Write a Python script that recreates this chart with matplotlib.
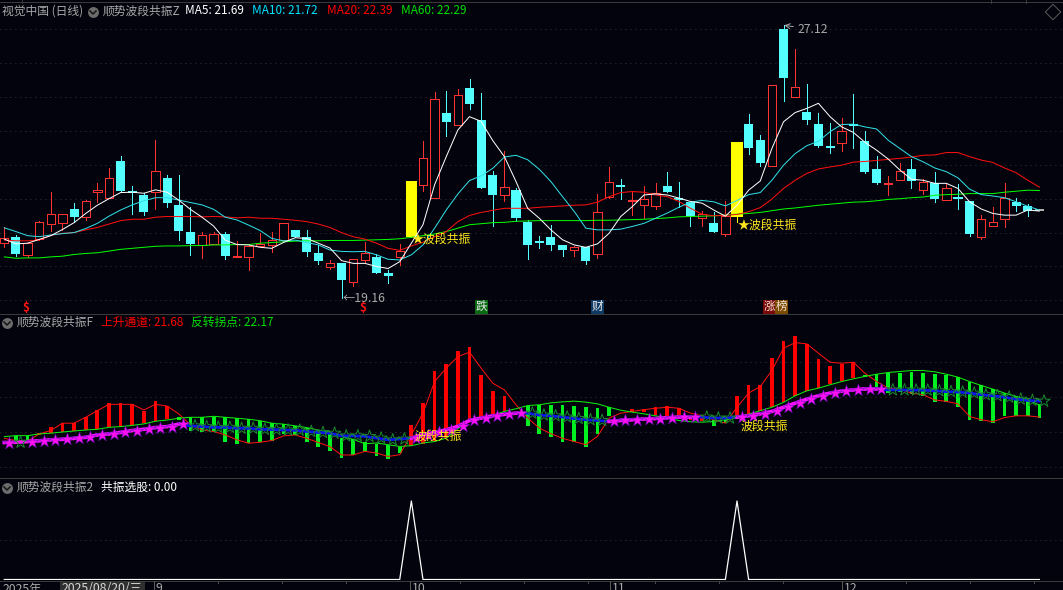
import matplotlib
matplotlib.use('Agg')
import matplotlib.pyplot as plt

plt.rcParams['font.family'] = ['Noto Sans CJK SC', 'DejaVu Sans']
plt.rcParams['patch.antialiased'] = False

bg_color = '#02030c'
red = '#ff3232'
cyan = '#54ffff'
thin = 0.6
curve = 0.72

# daily candles, body top/bottom and wick high/low
# r = up (hollow red), c = down (filled cyan), y = signal day (yellow), w = flat
candle_kind = list('rcrrrrcrrr' 'cccrcccrrc' 'rrrrrcccrc' 'rrccryrrcr' 'cccrcccccr'
                   'crrcrrrccc' 'rcryccrcrc' 'ccrcccrrcr' 'crccrrrccw')
body_top = [20.89, 20.93, 20.75, 21.36, 21.59, 21.59, 21.75, 21.97, 22.30, 22.65,
            23.15, 22.26, 22.16, 22.85, 22.66, 21.87, 21.08, 21.00, 21.01, 21.02,
            20.39, 20.66, 20.73, 20.83, 21.33, 21.14, 20.93, 20.46, 20.16, 20.17,
            20.28, 20.46, 20.35, 19.88, 20.53, 22.57, 23.24, 24.96, 24.56, 25.08,
            25.29, 24.36, 22.75, 22.39, 22.31, 21.38, 20.80, 20.94, 20.70, 20.65,
            20.63, 21.66, 22.53, 22.42, 22.02, 22.04, 22.21, 22.43, 22.08, 21.96,
            21.61, 21.34, 21.54, 23.71, 24.23, 23.76, 25.37, 27.01, 25.33, 24.58,
            24.23, 23.58, 24.02, 24.22, 23.73, 22.92, 22.52, 22.85, 22.92, 22.53,
            22.52, 22.35, 22.08, 21.98, 21.47, 21.38, 22.08, 21.95, 21.83, 21.70]
body_bottom = [20.75, 20.43, 20.41, 20.86, 21.32, 21.35, 21.52, 21.51, 22.26, 22.08,
               22.28, 22.21, 21.66, 22.24, 21.93, 21.11, 20.73, 20.71, 20.73, 20.37,
               20.35, 20.35, 20.68, 20.71, 20.84, 20.93, 20.49, 20.23, 20.06, 19.67,
               19.62, 20.26, 19.88, 19.79, 20.36, 20.94, 22.44, 22.06, 24.28, 24.22,
               24.81, 22.35, 22.16, 22.17, 21.50, 20.71, 20.76, 20.70, 20.54, 20.54,
               20.24, 20.42, 22.09, 22.38, 21.98, 21.86, 21.85, 22.25, 22.02, 21.55,
               21.48, 21.08, 21.02, 21.53, 23.54, 23.10, 23.01, 25.59, 25.03, 24.36,
               23.60, 23.54, 23.67, 24.17, 22.83, 22.52, 22.49, 22.60, 22.57, 22.31,
               22.04, 22.02, 22.04, 21.02, 20.94, 21.26, 21.47, 21.84, 21.70, 21.68]
wick_high = [21.21, 20.99, 20.79, 21.41, 22.25, 21.59, 21.93, 22.01, 22.51, 22.95,
             23.30, 22.42, 22.21, 23.77, 22.74, 22.74, 21.80, 21.09, 21.09, 21.08,
             20.81, 20.70, 21.04, 21.08, 21.33, 21.14, 21.14, 20.70, 20.26, 20.17,
             20.28, 20.79, 20.43, 19.97, 20.73, 22.57, 23.74, 25.17, 25.20, 25.26,
             25.56, 25.15, 22.85, 23.45, 22.35, 21.43, 20.96, 21.29, 20.70, 20.68,
             20.65, 22.19, 22.98, 22.63, 22.28, 22.43, 22.52, 22.84, 22.54, 21.96,
             21.70, 21.67, 21.98, 23.71, 24.52, 23.91, 25.37, 27.12, 26.43, 25.40,
             24.55, 24.27, 24.41, 25.11, 24.03, 23.30, 22.71, 23.08, 23.21, 22.64,
             22.83, 22.50, 22.48, 21.98, 21.57, 21.80, 22.50, 22.07, 21.89, 21.70]
wick_low = [20.65, 20.37, 20.36, 20.84, 21.11, 21.15, 21.38, 21.43, 21.96, 22.06,
            22.28, 21.60, 21.58, 21.75, 21.82, 20.84, 20.40, 20.32, 20.73, 20.30,
            20.35, 19.96, 20.68, 20.49, 20.82, 20.93, 20.37, 20.14, 19.99, 19.16,
            19.50, 20.18, 19.88, 19.60, 20.12, 20.94, 22.29, 22.06, 23.87, 24.22,
            24.66, 22.35, 21.24, 21.97, 21.40, 20.30, 20.62, 20.54, 20.38, 20.38,
            20.15, 20.32, 22.07, 22.05, 21.56, 21.48, 21.75, 22.25, 21.80, 21.26,
            21.24, 21.08, 20.96, 21.53, 23.36, 23.01, 23.01, 24.91, 25.03, 24.24,
            23.56, 23.39, 23.45, 23.53, 22.81, 22.49, 22.15, 22.60, 22.36, 22.19,
            21.96, 22.02, 21.76, 20.96, 20.88, 21.24, 21.22, 21.69, 21.55, 21.68]

ma5 = [20.87, 20.73, 20.75, 20.86, 20.97, 21.15, 21.35, 21.62, 21.86, 22.05,
       22.23, 22.24, 22.21, 22.31, 22.24, 22.01, 21.74, 21.51, 21.25, 20.84,
       20.71, 20.70, 20.63, 20.60, 20.77, 20.91, 20.89, 20.75, 20.61, 20.24,
       20.16, 20.16, 20.07, 20.01, 20.21, 20.75, 21.29, 22.46, 23.28, 24.06,
       24.45, 24.31, 23.75, 23.28, 22.55, 21.77, 21.48, 21.14, 20.85, 20.70,
       20.63, 20.73, 21.04, 21.53, 21.82, 22.16, 22.19, 22.16, 22.07, 21.97,
       21.92, 21.72, 21.54, 21.86, 22.30, 22.57, 23.52, 24.30, 24.57, 24.69,
       24.84, 24.45, 24.15, 23.99, 23.70, 23.47, 23.21, 22.89, 22.62, 22.59,
       22.50, 22.50, 22.35, 21.96, 21.75, 21.62, 21.57, 21.57, 21.72, 21.69]
ma10 = [21.20, 21.09, 20.97, 20.94, 20.99, 21.03, 21.06, 21.18, 21.33, 21.54,
        21.72, 21.87, 21.99, 22.08, 22.08, 22.01, 21.94, 21.87, 21.74, 21.51,
        21.43, 21.28, 21.12, 20.89, 20.82, 20.84, 20.77, 20.70, 20.55, 20.51,
        20.50, 20.51, 20.41, 20.28, 20.26, 20.41, 20.70, 21.19, 21.72, 22.19,
        22.58, 22.72, 22.94, 23.27, 23.32, 23.19, 22.91, 22.55, 22.11, 21.68,
        21.19, 21.14, 21.14, 21.16, 21.24, 21.33, 21.48, 21.63, 21.80, 21.95,
        22.00, 21.96, 21.84, 22.00, 22.17, 22.23, 22.59, 23.03, 23.37, 23.60,
        23.73, 24.01, 24.22, 24.23, 24.15, 24.09, 23.76, 23.52, 23.28, 23.13,
        22.95, 22.84, 22.66, 22.33, 22.17, 22.13, 22.08, 21.96, 21.83, 21.72]
ma20 = [20.84, 20.82, 20.82, 20.84, 20.98, 21.04, 21.06, 21.14, 21.21, 21.31,
        21.41, 21.45, 21.45, 21.51, 21.53, 21.53, 21.53, 21.52, 21.53, 21.52,
        21.49, 21.51, 21.48, 21.48, 21.45, 21.42, 21.38, 21.31, 21.21, 21.06,
        20.94, 20.87, 20.75, 20.60, 20.54, 20.67, 20.78, 20.94, 21.09, 21.38,
        21.56, 21.65, 21.71, 21.77, 21.77, 21.77, 21.80, 21.82, 21.84, 21.86,
        21.87, 21.95, 22.11, 22.23, 22.26, 22.24, 22.16, 22.11, 21.97, 21.77,
        21.60, 21.55, 21.57, 21.59, 21.67, 21.79, 22.04, 22.35, 22.59, 22.79,
        22.92, 22.98, 23.03, 23.12, 23.14, 23.17, 23.20, 23.23, 23.27, 23.32,
        23.33, 23.40, 23.40, 23.28, 23.18, 23.11, 22.95, 22.81, 22.59, 22.39]
ma60 = [20.35, 20.31, 20.32, 20.32, 20.35, 20.37, 20.42, 20.45, 20.47, 20.52,
        20.57, 20.60, 20.63, 20.66, 20.67, 20.67, 20.68, 20.68, 20.70, 20.70,
        20.71, 20.71, 20.75, 20.77, 20.79, 20.81, 20.82, 20.82, 20.83, 20.83,
        20.83, 20.84, 20.85, 20.86, 20.88, 20.92, 20.97, 21.02, 21.09, 21.19,
        21.29, 21.32, 21.35, 21.36, 21.39, 21.40, 21.41, 21.41, 21.41, 21.41,
        21.41, 21.42, 21.42, 21.43, 21.44, 21.45, 21.47, 21.49, 21.52, 21.53,
        21.54, 21.55, 21.57, 21.60, 21.62, 21.65, 21.70, 21.75, 21.78, 21.82,
        21.86, 21.89, 21.92, 21.95, 21.96, 21.99, 22.03, 22.05, 22.08, 22.10,
        22.15, 22.17, 22.18, 22.20, 22.20, 22.20, 22.24, 22.27, 22.30, 22.29]

# indicator F: sticks (None = no stick that day)
red_stick_days = list(range(3, 15)) + list(range(35, 44)) + list(range(54, 61)) + list(range(63, 74))
stick_top = [None, 20.91, 20.91, 21.02, 21.28, 21.43, 21.43, 21.67, 21.97, 22.26,
             22.24, 22.21, 21.94, 22.34, 22.15, 21.70, 21.67, 21.67, 21.70, 21.67,
             21.63, 21.59, 21.52, 21.43, 21.39, 21.32, 21.25, 21.13, 21.02, 20.84,
             20.77, 20.68, 20.59, 20.52, 20.45, 21.36, 22.25, 23.57, 23.85, 24.38,
             24.55, 23.40, 22.75, 22.56, None, 22.14, 22.17, 22.19, 22.19, 22.14,
             22.11, 22.06, 22.08, None, 22.00, 22.00, 22.08, 22.14, 22.04, 21.77,
             21.73, 21.57, 21.57, 22.56, 23.00, 23.00, 24.11, 24.79, 25.00, 24.67,
             24.06, 23.77, 23.84, 23.92, 23.40, 23.43, 23.47, 23.49, 23.53, 23.50,
             23.44, 23.40, 23.31, 23.13, 22.98, 22.82, 22.66, 22.52, 22.38, 22.22]
stick_bottom = [None, 20.72, 20.72, 20.95, 21.02, 21.07, 21.09, 21.15, 21.18, 21.26,
                21.29, 21.36, 21.43, 21.52, 21.58, 21.56, 21.13, 21.05, 21.05, 20.68,
                20.57, 20.61, 20.66, 20.71, 20.99, 20.95, 20.68, 20.47, 20.31, 20.00,
                20.13, 20.24, 20.07, 19.96, 20.21, 20.51, 20.59, 20.68, 20.82, 21.23,
                21.53, 21.64, 21.73, 21.91, None, 21.32, 21.00, 20.85, 20.68, 20.68,
                20.44, 21.00, 21.73, None, 21.89, 21.87, 21.76, 21.70, 21.68, 21.57,
                21.53, 21.32, 21.43, 21.60, 21.77, 21.91, 22.08, 22.28, 22.56, 22.75,
                22.87, 23.02, 23.16, 23.27, 23.31, 22.86, 22.68, 22.72, 22.62, 22.52,
                22.28, 22.28, 22.11, 21.54, 21.50, 21.42, 21.73, 21.73, 21.73, 21.66]
# 上升通道
channel = [20.81, 20.72, 20.69, 20.99, 21.13, 21.43, 21.43, 21.67, 21.94, 22.20,
           22.20, 22.20, 21.97, 22.20, 22.13, 21.81, 21.36, 21.15, 21.09, 20.95,
           20.75, 20.61, 20.65, 20.72, 20.91, 20.95, 20.81, 20.64, 20.47, 20.13,
           20.13, 20.28, 20.21, 20.07, 20.14, 20.96, 21.84, 23.13, 23.68, 24.15,
           24.33, 23.68, 23.06, 22.79, 22.18, 21.64, 21.23, 21.00, 20.81, 20.68,
           20.55, 20.89, 21.64, 21.84, 21.91, 21.98, 22.04, 22.08, 22.04, 21.84,
           21.73, 21.57, 21.43, 22.08, 22.66, 22.93, 23.58, 24.49, 24.72, 24.67,
           24.29, 23.92, 23.88, 23.92, 23.47, 23.13, 22.86, 22.82, 22.66, 22.59,
           22.38, 22.32, 22.22, 21.70, 21.57, 21.49, 21.66, 21.73, 21.73, 21.68]
# 反转拐点
reversal = [20.88, 20.92, 20.92, 20.99, 21.02, 21.07, 21.11, 21.15, 21.18, 21.26,
            21.29, 21.34, 21.40, 21.51, 21.56, 21.63, 21.67, 21.67, 21.71, 21.67,
            21.63, 21.59, 21.53, 21.43, 21.39, 21.32, 21.25, 21.15, 21.05, 20.88,
            20.77, 20.59, 20.62, 20.55, 20.48, 20.51, 20.62, 20.68, 20.82, 21.20,
            21.54, 21.66, 21.74, 21.91, 22.02, 22.15, 22.18, 22.26, 22.30, 22.33,
            22.29, 22.22, 22.08, 21.96, 21.88, 21.81, 21.73, 21.64, 21.54, 21.49,
            21.47, 21.50, 21.57, 21.64, 21.80, 21.94, 22.08, 22.28, 22.55, 22.75,
            22.86, 23.00, 23.13, 23.24, 23.34, 23.43, 23.50, 23.54, 23.58, 23.58,
            23.53, 23.43, 23.31, 23.13, 22.97, 22.82, 22.66, 22.52, 22.38, 22.17]
star_line = [20.64, 20.65, 20.68, 20.71, 20.75, 20.77, 20.81, 20.85, 20.95, 20.99,
             21.05, 21.13, 21.18, 21.25, 21.29, 21.39, 21.32, 21.29, 21.26, 21.26,
             21.22, 21.22, 21.18, 21.17, 21.15, 21.14, 21.09, 21.05, 21.02, 20.91,
             20.91, 20.89, 20.82, 20.75, 20.78, 20.82, 20.96, 21.05, 21.16, 21.30,
             21.54, 21.64, 21.73, 21.79, 21.84, 21.84, 21.76, 21.73, 21.68, 21.62,
             21.57, 21.54, 21.50, 21.54, 21.57, 21.60, 21.62, 21.65, 21.68, 21.68,
             21.68, 21.64, 21.64, 21.68, 21.73, 21.81, 21.91, 22.08, 22.25, 22.41,
             22.55, 22.66, 22.74, 22.79, 22.83, 22.83, 22.79, 22.79, 22.78, 22.78,
             22.75, 22.72, 22.70, 22.66, 22.59, 22.55, 22.49, 22.41, 22.36, 22.33]
up_spans = [(0, 15), (35, 44), (52, 59), (63, 75)]
dark_star_in_up = [1]

signal_days = [35, 63]
signal_prices = [20.87, 21.28]
signal_prices_f = [20.91, 21.32]

month_labels = ['9', '10', '11', '12']
tag_days = [2, 31]
box_tags = [('跌', 41, '#0a6a14'), ('财', 51, '#0f3a66')]

days = list(range(len(ma5)))
left_day = -0.37
right_day = 91.03

fig = plt.figure(figsize=(10.63, 5.90), dpi=100, facecolor=bg_color)


def make_panel(top_px, bottom_px, ymin, ymax, grid_levels):
    ax = fig.add_axes([0, 1 - bottom_px / 590, 1, (bottom_px - top_px) / 590])
    ax.set_facecolor(bg_color)
    ax.set_xlim(left_day, right_day)
    ax.set_ylim(ymin, ymax)
    ax.set_xticks([])
    ax.set_yticks(grid_levels)
    ax.tick_params(length=0, labelleft=False)
    ax.grid(axis='y', color='#4a4a4a', linewidth=thin, linestyle=(0, (1, 5)))
    ax.set_axisbelow(True)
    for side in ['left', 'right', 'top', 'bottom']:
        ax.spines[side].set_visible(False)
    return ax


# main candle panel
ax1 = make_panel(0, 314, 18.68, 27.86, [27.0, 26.01, 25.02, 24.03, 23.04, 22.05, 21.06, 20.07, 19.08])
kind_color = {'r': red, 'c': cyan, 'y': '#ffff00', 'w': '#b0b0b0'}
for i in days:
    kind = candle_kind[i]
    color = kind_color[kind]
    ax1.vlines(i, wick_low[i], wick_high[i], color=color, linewidth=thin, antialiased=False, zorder=2)
    height = body_top[i] - body_bottom[i]
    if kind == 'r':
        ax1.bar(i, height, bottom=body_bottom[i], width=0.72, facecolor=bg_color, edgecolor=color,
                linewidth=thin, zorder=3)
    elif kind == 'y':
        ax1.bar(i, height, bottom=body_bottom[i], width=0.95, color=color, linewidth=0, zorder=3)
    else:
        ax1.bar(i, max(height, 0.06), bottom=body_bottom[i], width=0.78, color=color, linewidth=0, zorder=3)

ax1.plot(days, ma60, color='#00ff00', linewidth=curve, zorder=4)
ax1.plot(days, ma20, color='#ff1010', linewidth=curve, zorder=4)
ax1.plot(days, ma10, color='#30e0e8', linewidth=curve, zorder=4)
ax1.plot(days, ma5, color='#ffffff', linewidth=curve, zorder=5)

for day, price in zip(signal_days, signal_prices):
    ax1.text(day + 0.02, price, '★波段共振', color='#ffe61e', fontsize=8.6, va='center', ha='left', zorder=6)
ax1.vlines(63, 21.38, 21.53, color='#ffff00', linewidth=thin, antialiased=False, zorder=6)

ax1.text(29.1, 19.16 - 0.02, '←19.16', color='#a8a8a8', fontsize=8.8, va='center', ha='left', zorder=6)
ax1.annotate('27.12', xy=(67.05, 27.12), xytext=(68.2, 27.0), color='#a8a8a8', fontsize=8.8, va='center',
             arrowprops=dict(arrowstyle='->', color='#a8a8a8', linewidth=0.7, shrinkA=1, shrinkB=0,
                             antialiased=True), zorder=6)
for day in tag_days:
    ax1.text(day - 0.15, 18.88, r'\$', color='#ff1414', fontsize=8.5, fontweight='bold', ha='center', va='center')
for label, day, color in box_tags:
    ax1.text(day, 18.89, label, color='#e8e8e8', fontsize=8.4, ha='center', va='center',
             bbox=dict(facecolor=color, edgecolor='none', pad=0.6))
ax1.text(65.8, 18.89, '涨', color='#f0e0d0', fontsize=8.4, ha='center', va='center',
         bbox=dict(facecolor='#7a0a0a', edgecolor='none', pad=0.6))
ax1.text(66.8, 18.89, '榜', color='#f0e0d0', fontsize=8.4, ha='center', va='center',
         bbox=dict(facecolor='#7a4a00', edgecolor='none', pad=0.6))

# indicator panel F
ax2 = make_panel(314, 478, 19.19, 25.89, [23.91, 22.48, 21.05, 19.62])
for i in days:
    if stick_top[i] is None:
        continue
    stick_color = '#ff0000' if i in red_stick_days else '#00f020'
    ax2.bar(i, stick_top[i] - stick_bottom[i], bottom=stick_bottom[i], width=0.32, color=stick_color,
            linewidth=0, zorder=3)
ax2.plot(days, channel, color='#ff1010', linewidth=curve, zorder=4)
ax2.plot(days, reversal, color='#10f010', linewidth=curve, zorder=4)
ax2.plot(days, star_line, color='#0a14f0', linewidth=2.0, zorder=5)
for start, end in up_spans:
    ax2.plot(days[start:end + 1], star_line[start:end + 1], color='#ff10ff', linewidth=2.6, zorder=5)
for i in days:
    is_up = any(start <= i <= end for start, end in up_spans) and i not in dark_star_in_up
    if is_up:
        ax2.scatter(i + 0.4, star_line[i], marker='*', s=85, facecolor='#ff10f0', edgecolor='#6a10c0',
                    linewidth=0.4, antialiased=True, zorder=6)
    else:
        ax2.scatter(i + 0.4, star_line[i], marker='*', s=85, facecolor='none', edgecolor='#1a8a30',
                    linewidth=0.7, antialiased=True, zorder=6)
for day, price in zip(signal_days, signal_prices_f):
    ax2.text(day + 0.3, price, '波段共振', color='#ffe61e', fontsize=8.6, va='center', ha='left', zorder=7)

# indicator panel 2
ax3 = make_panel(478, 580, -0.006, 1.293, [0.5])
pick = [0] * len(days)
pick[35] = 1
pick[63] = 1
ax3.plot(days, pick, color='#ffffff', linewidth=0.9, zorder=3)

# panel titles, colours follow the original
title_size = 8.5


def top_text(x_px, y_px, text, color):
    fig.text(x_px / 1063, 1 - y_px / 590, text, color=color, fontsize=title_size, va='center', ha='left')


def chevron(x_px, y_px):
    ax = fig.add_axes([0, 0, 1, 1], facecolor='none')
    ax.set_xlim(0, 1063)
    ax.set_ylim(590, 0)
    ax.axis('off')
    ax.scatter([x_px], [y_px], s=62, color='#6c6c6c', linewidth=0, antialiased=True)
    ax.plot([x_px - 3, x_px, x_px + 3], [y_px - 1, y_px + 2, y_px - 1], color='#151515', linewidth=1.1)


top_text(2, 11, '视觉中国 (日线)', '#a8a8a8')
chevron(93, 12)
top_text(103, 11, '顺势波段共振Z', '#a8a8a8')
top_text(185, 11, 'MA5: 21.69', '#ffffff')
top_text(252, 11, 'MA10: 21.72', '#00e5ff')
top_text(327, 11, 'MA20: 22.39', '#ff0000')
top_text(401, 11, 'MA60: 22.29', '#00e000')

chevron(7, 323)
top_text(17, 322, '顺势波段共振F', '#a8a8a8')
top_text(101, 322, '上升通道: 21.68', '#ff0000')
top_text(191, 322, '反转拐点: 22.17', '#00e000')

chevron(7, 488)
top_text(17, 487, '顺势波段共振2', '#a8a8a8')
top_text(101, 487, '共振选股: 0.00', '#ffffff')

# panel separators and time axis
overlay = fig.add_axes([0, 0, 1, 1], facecolor='none')
overlay.set_xlim(0, 1063)
overlay.set_ylim(590, 0)
overlay.axis('off')
overlay.hlines([2, 314, 478, 581], 0, 1063, color='#3a3a3a', linewidth=thin, antialiased=False)
overlay.vlines([22, 991, 1026], 0, 3, color='#3a3a3a', linewidth=thin, antialiased=False)
overlay.vlines([218, 282, 346, 460, 524, 588, 655, 719, 783, 906, 970, 1034], 581, 583,
               color='#4a4a4a', linewidth=thin, antialiased=False)
overlay.vlines([154, 410, 610, 842], 581, 590, color='#5a5a5a', linewidth=thin, antialiased=False)
overlay.scatter([1053], [12], marker='D', s=62, facecolor='none', edgecolor='#5a5a5a', linewidth=0.7,
                antialiased=True)
overlay.fill_between([60, 145], 582, 590, color='#2f2f2f', linewidth=0)
overlay.text(3, 589, '2025年', color='#a8a8a8', fontsize=8.8, va='center', ha='left')
overlay.text(62, 589, '2025/08/20/三', color='#d8d8d8', fontsize=8.8, va='center', ha='left')
for label, x_px in zip(month_labels, [156, 412, 612, 844]):
    overlay.text(x_px, 589, label, color='#a8a8a8', fontsize=8.8, va='center', ha='left')

fig.savefig('out.png', dpi=100, facecolor=bg_color)
